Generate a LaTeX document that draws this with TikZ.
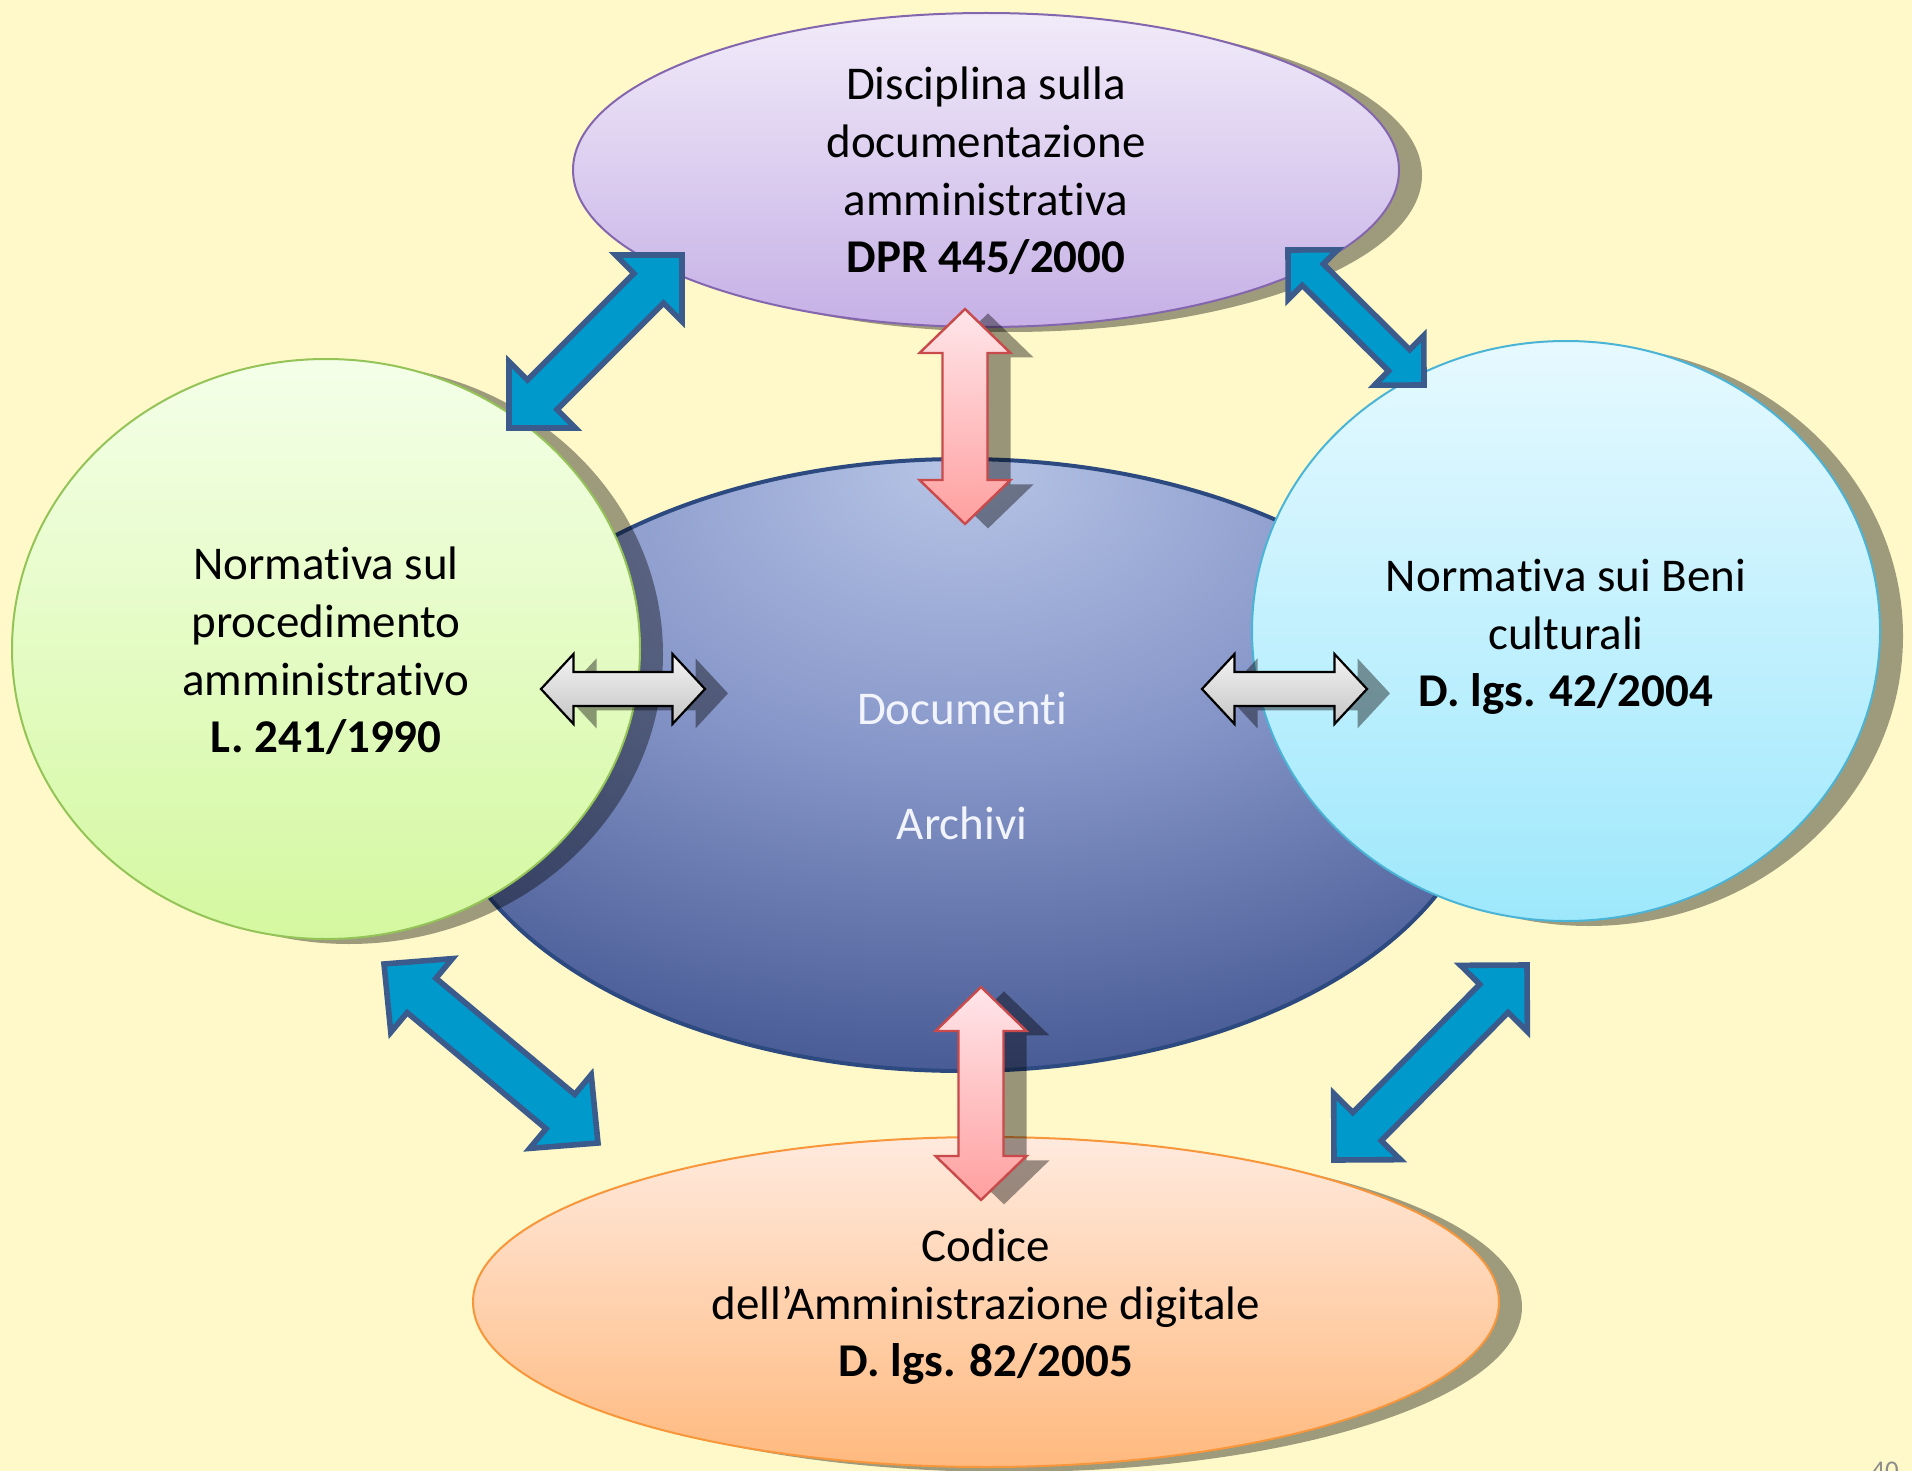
\documentclass[tikz,border=0pt]{standalone}
\usepackage{fontspec}
\setmainfont{Carlito}[Ligatures={NoCommon}]
\usetikzlibrary{calc,shapes.geometric,shadows}
\definecolor{bg}{HTML}{FFF9C9}
\definecolor{purtop}{HTML}{F1EBF9}
\definecolor{purbot}{HTML}{C6B0E6}
\definecolor{puredge}{HTML}{8466AE}
\definecolor{grntop}{HTML}{F4FFE8}
\definecolor{grnbot}{HTML}{D4F8A0}
\definecolor{grnedge}{HTML}{94C458}
\definecolor{cyntop}{HTML}{E6F9FF}
\definecolor{cynbot}{HTML}{9EE8FC}
\definecolor{cynedge}{HTML}{4AB4D6}
\definecolor{orgtop}{HTML}{FFEADE}
\definecolor{orgbot}{HTML}{FFB97E}
\definecolor{orgedge}{HTML}{F7963A}
\definecolor{blutop}{HTML}{B7C5E6}
\definecolor{blumid}{HTML}{8595C8}
\definecolor{blumid2}{HTML}{55679F}
\definecolor{blubot}{HTML}{2B3F80}
\definecolor{bluedge}{HTML}{2C4A80}
\definecolor{arrowblue}{HTML}{0099CC}
\definecolor{arrowedge}{HTML}{3B5B8C}
\definecolor{pinktop}{HTML}{FFE6EA}
\definecolor{pinkbot}{HTML}{FF9F9F}
\definecolor{pinkedge}{HTML}{C84A4A}
\definecolor{greytop}{HTML}{F4F4F4}
\definecolor{greybot}{HTML}{C4C4C4}
\definecolor{centertext}{HTML}{F2F4FC}
\pgfdeclareradialshading{docshade}{\pgfpoint{0bp}{25bp}}{color(0bp)=(blutop); color(20bp)=(blumid); color(36bp)=(blumid2); color(50bp)=(blubot); color(100bp)=(blubot)}
% double arrow block between two named tips: #1 style, #2 tip A, #3 tip B, #4 head length, #5 head half width, #6 shaft half width
\newcommand\DArrowShape[6]{%
  \path[#1] (#2)
   -- ($(#2)!#4!(#3)!#5!90:(#3)$)
   -- ($(#2)!#4!(#3)!#6!90:(#3)$)
   -- ($(#3)!#4!(#2)!#6!-90:(#2)$)
   -- ($(#3)!#4!(#2)!#5!-90:(#2)$)
   -- (#3)
   -- ($(#3)!#4!(#2)!#5!90:(#2)$)
   -- ($(#3)!#4!(#2)!#6!90:(#2)$)
   -- ($(#2)!#4!(#3)!#6!-90:(#3)$)
   -- ($(#2)!#4!(#3)!#5!-90:(#3)$)
   -- cycle;}
\begin{document}
\begin{tikzpicture}[x=0.5pt,y=-0.5pt,
  oval/.style={ellipse, inner sep=0pt, line width=1pt},
  oshadow/.style={drop shadow={shadow xshift=11.5pt, shadow yshift=-2.5pt, opacity=.38, fill=black}},
  txt/.style={align=center, font=\fontsize{23.5pt}{28.8pt}\selectfont, inner sep=0pt},
  bluearrow/.style={fill=arrowblue, draw=arrowedge, line width=2.8pt, line join=miter},
  pinkarrow/.style={top color=pinktop, bottom color=pinkbot, draw=pinkedge, line width=1.2pt, line join=miter},
  greyarrow/.style={top color=greytop, bottom color=greybot, draw=black, line width=1.1pt, line join=miter},
  ashadow/.style={fill=black, opacity=.4}]
\fill[bg] (0,0) rectangle (1912,1471);
\useasboundingbox (0,0) rectangle (1912,1471);
% ellipses
\node[oval, minimum width=524pt, minimum height=306pt, shading=docshade, draw=bluedge, line width=2pt] (center) at (962,765) {};
\node[oval, oshadow, minimum width=314pt, minimum height=290pt, top color=grntop, bottom color=grnbot, draw=grnedge] (left) at (326,649) {};
\node[oval, oshadow, minimum width=314pt, minimum height=290pt, top color=cyntop, bottom color=cynbot, draw=cynedge] (right) at (1566,631) {};
\node[oval, oshadow, minimum width=413pt, minimum height=157pt, top color=purtop, bottom color=purbot, draw=puredge] (top) at (986,170) {};
\node[oval, oshadow, minimum width=513pt, minimum height=165pt, top color=orgtop, bottom color=orgbot, draw=orgedge] (bottom) at (986,1302) {};
% arrow tips
\coordinate (tlA) at (682,255); \coordinate (tlB) at (509,428);
\coordinate (trA) at (1288,250); \coordinate (trB) at (1424,385);
\coordinate (blA) at (384,964); \coordinate (blB) at (598,1143);
\coordinate (brA) at (1527,965); \coordinate (brB) at (1334,1160);
\coordinate (ptA) at (965,309); \coordinate (ptB) at (965,524);
\coordinate (pbA) at (981,987); \coordinate (pbB) at (981,1200);
\coordinate (glA) at (541,689); \coordinate (glB) at (705,689);
\coordinate (grA) at (1202,689); \coordinate (grB) at (1367,689);
% blue arrows
\DArrowShape{bluearrow}{tlA}{tlB}{23.5pt}{23.5pt}{10.5pt}
\DArrowShape{bluearrow}{trA}{trB}{17.5pt}{17.5pt}{7.5pt}
\DArrowShape{bluearrow}{blA}{blB}{24.5pt}{24pt}{11.2pt}
\DArrowShape{bluearrow}{brA}{brB}{23.5pt}{23.5pt}{10pt}
% shadows of pink and grey arrows
\begin{scope}[transform canvas={shift={(11.5pt,-2.2pt)}}]
\DArrowShape{ashadow}{ptA}{ptB}{22pt}{22.75pt}{11.25pt}
\DArrowShape{ashadow}{pbA}{pbB}{22pt}{22.75pt}{11.25pt}
\DArrowShape{ashadow}{glA}{glB}{16.25pt}{17.5pt}{8.5pt}
\DArrowShape{ashadow}{grA}{grB}{16.25pt}{17.5pt}{8.5pt}
\end{scope}
\DArrowShape{pinkarrow}{ptA}{ptB}{22pt}{22.75pt}{11.25pt}
\DArrowShape{pinkarrow}{pbA}{pbB}{22pt}{22.75pt}{11.25pt}
\DArrowShape{greyarrow}{glA}{glB}{16.25pt}{17.5pt}{8.5pt}
\DArrowShape{greyarrow}{grA}{grB}{16.25pt}{17.5pt}{8.5pt}
% texts
\node[txt] (toptext) at (986,171) {Disciplina sulla\\documentazione\\amministrativa\\\textbf{DPR 445/2000}};
\node[txt] (lefttext) at (326,651) {Normativa sul\\procedimento\\amministrativo\\\textbf{L. 241/1990}};
\node[txt] (righttext) at (1566,637) {Normativa sui Beni\\culturali\\\textbf{D. lgs. 42/2004}};
\node[txt, text=centertext] (centertxt) at (962,766) {Documenti\\[29pt]Archivi};
\node[txt] (bottomtext) at (986,1307) {Codice\\dell’Amministrazione digitale\\\textbf{D. lgs. 82/2005}};
\begin{scope}
\clip (0,0) rectangle (1912,1471);
\node[anchor=base west, inner sep=0pt, text=black!45, font=\fontsize{13.5pt}{16pt}\selectfont] (pagenum) at (1871,1479) {40};
\end{scope}
\end{tikzpicture}
\end{document}
